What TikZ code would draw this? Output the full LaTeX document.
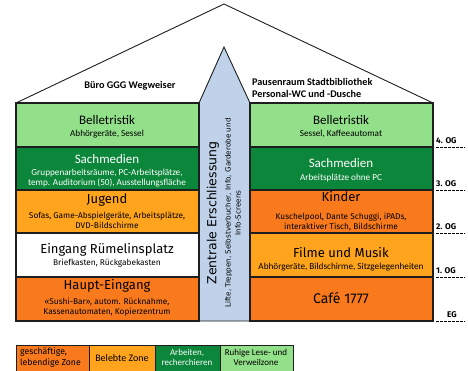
\documentclass[tikz,border=0pt]{standalone}
\usepackage{fontspec}
\setmainfont{Carlito}
\newfontfamily\din{Fira Sans}
\newfontfamily\verd{DejaVu Sans}
\definecolor{lgreen}{RGB}{146,224,138}
\definecolor{dgreen}{RGB}{12,134,58}
\definecolor{lorange}{RGB}{255,164,28}
\definecolor{dorange}{RGB}{249,122,28}
\definecolor{lblue}{RGB}{191,210,234}
\definecolor{edge}{RGB}{30,30,30}
\tikzset{
  room/.style={draw=edge, line width=1.1pt},
  ttl/.style={inner sep=0pt, font=\fontsize{13}{15}\selectfont},
  dttl/.style={inner sep=0pt, font=\din\fontsize{13}{15}\selectfont},
  sub/.style={inner sep=0pt, align=center, font=\fontsize{9.2}{10.5}\selectfont},
  dsub/.style={inner sep=0pt, align=center, font=\din\fontsize{8.3}{10.3}\selectfont},
  floor/.style={inner sep=0pt, anchor=south west, font=\din\bfseries\fontsize{8.3}{9}\selectfont},
  fline/.style={dashed, line width=0.7pt, dash pattern=on 2.5pt off 1.5pt},
  roofnote/.style={inner sep=0pt, align=left, font=\bfseries\fontsize{10.2}{11.2}\selectfont},
  leg/.style={inner sep=0pt, align=center, font=\fontsize{9}{10.5}\selectfont},
}
\begin{document}
\begin{tikzpicture}[x=1pt,y=-1pt]
\useasboundingbox (0,0) rectangle (468,370);
\fill[white] (0,0) rectangle (468,370);
% roof
\coordinate (rl) at (16,103);
\coordinate (ra) at (224,4);
\coordinate (rr) at (433,103);
\draw[line width=0.9pt, edge] (rl) -- (ra) -- (rr);
% central column
\filldraw[fill=lblue, draw=edge, line width=0.9pt] (199,321) -- (199,103) -- (224,47) -- (250,103) -- (250,321) -- cycle;
% left rooms
\filldraw[room, fill=lgreen] (16,103) rectangle (199,147);
\filldraw[room, fill=dgreen] (16,147) rectangle (199,190);
\filldraw[room, fill=lorange] (16,190) rectangle (199,233);
\filldraw[room, fill=white] (16,233) rectangle (199,277);
\filldraw[room, fill=dorange] (16,277) rectangle (199,321);
% right rooms
\filldraw[room, fill=lgreen] (250,103) rectangle (433,147);
\filldraw[room, fill=dgreen] (250,147) rectangle (433,190);
\filldraw[room, fill=dorange] (250,190) rectangle (433,233);
\filldraw[room, fill=lorange] (250,233) rectangle (433,277);
\filldraw[room, fill=dorange] (250,277) rectangle (433,321);
\draw[line width=0.9pt, edge] (199,103) -- (199,321) (250,103) -- (250,321);
% roof notes
\node[roofnote] (buero) at (130,86) {Büro GGG Wegweiser};
\node[roofnote, anchor=west] (pause) at (252,88) {Pausenraum Stadtbibliothek\\Personal-WC und -Dusche};
% left texts
\node[ttl] (l1) at (107,120) {Belletristik};
\node[sub] (l1s) at (107,134) {Abhörgeräte, Sessel};
\node[ttl, text=white] (l2) at (107,159) {Sachmedien};
\node[sub, text=white] (l2s) at (107,178) {Gruppenarbeitsräume, PC-Arbeitsplätze,\\temp. Auditorium (50), Ausstellungsfläche};
\node[dttl] (l3) at (107,200) {Jugend};
\node[dsub] (l3s) at (107,220) {Sofas, Game-Abspielgeräte, Arbeitsplätze,\\DVD-Bildschirme};
\node[dttl] (l4) at (107,250) {Eingang Rümelinsplatz};
\node[dsub] (l4s) at (107,263) {Briefkasten, Rückgabekasten};
\node[dttl] (l5) at (107,286) {Haupt-Eingang};
\node[dsub] (l5s) at (107,307) {«Sushi-Bar», autom. Rücknahme,\\Kassenautomaten, Kopierzentrum};
% right texts
\node[ttl] (r1) at (341,120) {Belletristik};
\node[sub] (r1s) at (341,134) {Sessel, Kaffeeautomat};
\node[ttl, text=white] (r2) at (341,163) {Sachmedien};
\node[sub, text=white] (r2s) at (341,178) {Arbeitsplätze ohne PC};
\node[dttl] (r3) at (341,197) {Kinder};
\node[dsub] (r3s) at (341,222) {Kuschelpool, Dante Schuggi, iPADs,\\interaktiver Tisch, Bildschirme};
\node[dttl] (r4) at (341,253) {Filme und Musik};
\node[sub] (r4s) at (341,267) {Abhörgeräte, Bildschirme, Sitzgelegenheiten};
\node[dttl, font=\din\fontsize{14}{16}\selectfont] (r5) at (341,298) {Café 1777};
% central vertical text
\node[rotate=90, inner sep=0pt, font=\verd\fontsize{12.5}{14}\selectfont] (zt) at (213,213) {Zentrale Erschliessung};
\node[rotate=90, inner sep=0pt, align=center, font=\verd\fontsize{7.2}{10}\selectfont] (zs) at (233,213) {Lifte, Treppen, Selbstverbucher, Info, Garderobe und\\Info-Screens};
% floors
\foreach \y/\t/\n in {147/4. OG/f4, 190/3. OG/f3, 233/2. OG/f2, 277/1. OG/f1} {
  \coordinate (\n a) at (436,\y);
  \coordinate (\n b) at (465,\y);
  \draw[fline] (\n a) -- (\n b);
  \node[floor] (\n) at (436,\y-3) {\t};
}
\coordinate (f0a) at (436,321);
\coordinate (f0b) at (465,321);
\draw[fline] (f0a) -- (f0b);
\node[floor, anchor=south] (f0) at (452,318) {EG};
% legend
\filldraw[room, line width=0.9pt, fill=dorange] (16,345) rectangle (89,372);
\filldraw[room, line width=0.9pt, fill=lorange] (89,345) rectangle (155,372);
\filldraw[room, line width=0.9pt, fill=dgreen] (155,345) rectangle (220,372);
\filldraw[room, line width=0.9pt, fill=lgreen] (220,345) rectangle (293,372);
\node[leg, align=left, anchor=west, font=\din\fontsize{8.7}{10.3}\selectfont] (lg1) at (20,357.5) {geschäftige,\\lebendige Zone};
\node[leg, font=\fontsize{10}{11}\selectfont] (lg2) at (122,358) {Belebte Zone};
\node[leg, text=white] (lg3) at (187,357.5) {Arbeiten,\\recherchieren};
\node[leg] (lg4) at (256,357.5) {Ruhige Lese- und\\Verweilzone};
\end{tikzpicture}
\end{document}
